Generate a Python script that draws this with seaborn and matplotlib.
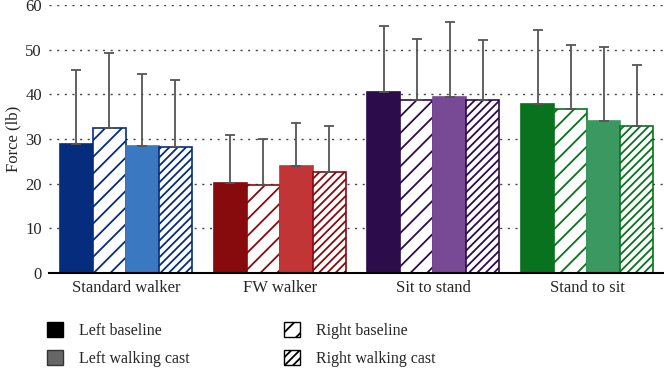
import pandas as pd
import matplotlib
matplotlib.use("Agg")
import matplotlib.pyplot as plt
import matplotlib.patches as mpatches
import seaborn as sns

# Data
tasks = ["Standard walker", "FW walker", "Sit to stand", "Stand to sit"]
conditions = ["Left baseline", "Right baseline", "Left walking cast", "Right walking cast"]
left_baseline = [28.8, 20.2, 40.6, 37.8]
right_baseline = [32.4, 19.8, 38.7, 36.8]
left_cast = [28.4, 23.9, 39.4, 34.0]
right_cast = [28.2, 22.6, 38.8, 32.9]
left_baseline_sd = [16.7, 10.7, 14.7, 16.5]
right_baseline_sd = [16.8, 10.3, 13.8, 14.2]
left_cast_sd = [16.2, 9.6, 16.7, 16.5]
right_cast_sd = [15.1, 10.2, 13.4, 13.6]

means = [left_baseline, right_baseline, left_cast, right_cast]
sds = [left_baseline_sd, right_baseline_sd, left_cast_sd, right_cast_sd]

rows = []
for cond, vals in zip(conditions, means):
    for t, v in zip(tasks, vals):
        rows.append({"task": t, "condition": cond, "force": v})
df = pd.DataFrame(rows)

# dark / light colour per task
dark = ["#062d7d", "#870a0d", "#2d0c4b", "#08721f"]
light = ["#3a78c2", "#c23536", "#784994", "#3a9860"]

sns.set_style("white")
plt.rcParams["font.family"] = ["Liberation Serif", "DejaVu Serif"]
plt.rcParams["hatch.linewidth"] = 1.3

fig = plt.figure(figsize=(6.64, 3.69), dpi=100)
ax = fig.add_axes([49 / 664, 1 - 273 / 369, 1 - 49 / 664, 268 / 369])

sns.barplot(data=df, x="task", y="force", hue="condition", order=tasks,
            hue_order=conditions, width=0.86, gap=0, legend=False,
            errorbar=None, ax=ax)

bar_conts = list(ax.containers)
for k, cont in enumerate(bar_conts):
    for j, bar in enumerate(cont):
        if k == 0:
            bar.set_facecolor(dark[j]); bar.set_edgecolor(dark[j]); bar.set_hatch(None)
        elif k == 1:
            bar.set_facecolor("white"); bar.set_edgecolor(dark[j]); bar.set_hatch("//")
        elif k == 2:
            bar.set_facecolor(light[j]); bar.set_edgecolor(light[j]); bar.set_hatch(None)
        else:
            bar.set_facecolor("white"); bar.set_edgecolor(dark[j]); bar.set_hatch("////")
        bar.set_linewidth(1.2)
        cx = bar.get_x() + bar.get_width() / 2
        ax.errorbar(cx, bar.get_height(), yerr=[[0], [sds[k][j]]], fmt="none",
                    ecolor="#555555", elinewidth=1.3, capsize=3.5, capthick=1.3,
                    zorder=1)

ax.set_ylim(0, 60)
ax.set_xlim(-0.5, 3.5)
ax.set_yticks(range(0, 61, 10))
ax.yaxis.grid(True, linestyle=(0, (1.5, 4)), color="#444444", linewidth=1.0)
ax.set_axisbelow(True)
for s in ["top", "right", "left"]:
    ax.spines[s].set_visible(False)
ax.spines["bottom"].set_color("black")
ax.spines["bottom"].set_linewidth(1.5)
ax.tick_params(axis="both", length=0, labelsize=12, pad=5)
ax.set_xlabel("")
ax.set_ylabel("Force (lb)", fontsize=12, labelpad=3)

handles = [
    mpatches.Patch(facecolor="black", edgecolor="black", label="Left baseline"),
    mpatches.Patch(facecolor="#666666", edgecolor="#333333", label="Left walking cast"),
    mpatches.Patch(facecolor="white", edgecolor="black", hatch="//", label="Right baseline"),
    mpatches.Patch(facecolor="white", edgecolor="black", hatch="////", label="Right walking cast"),
]
fig.legend(handles=handles, loc="upper left", bbox_to_anchor=(33 / 664, 1 - 308 / 369),
           ncol=2, frameon=False, fontsize=11.5, handlelength=1.0, handleheight=1.0,
           columnspacing=5.9, labelspacing=0.72, handletextpad=1.0)

fig.savefig("out.png", dpi=100)
